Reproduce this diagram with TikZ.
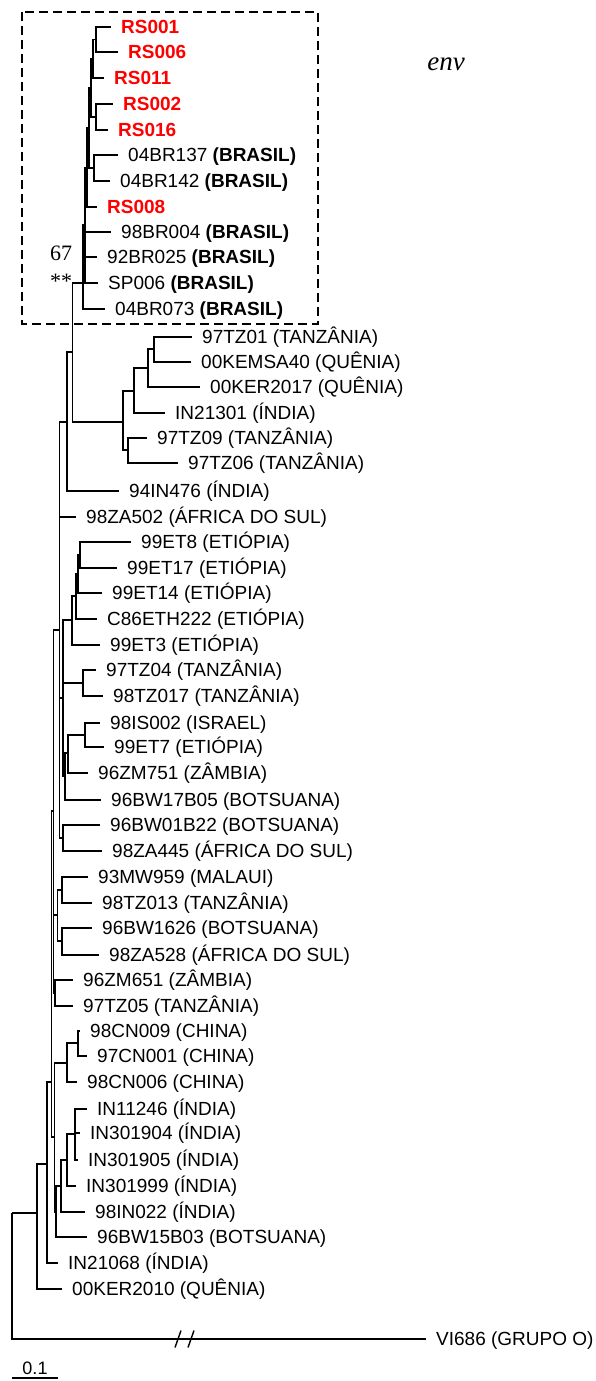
\documentclass[tikz,border=0pt]{standalone}
\usepackage{fontspec}
\setmainfont{Liberation Sans}
\newfontfamily\timesfont{Liberation Serif}
\usetikzlibrary{positioning}
\definecolor{rsred}{HTML}{FF0000}

\begin{document}
\begin{tikzpicture}[x=1pt,y=-1pt,
  branch/.style={line width=1.4pt},
  leaf/.style={anchor=west,inner xsep=10pt,inner ysep=0pt,text height=13.5pt,text depth=0pt,
    font=\fontsize{19}{21}\selectfont},
  rsleaf/.style={leaf,text=rsred,font=\fontsize{19}{21}\selectfont\bfseries},
  support/.style={inner sep=0pt,font=\timesfont\fontsize{22}{24}\selectfont},
  envbox/.style={line width=2.1pt,dash pattern=on 9pt off 5pt}]
\useasboundingbox (0,0) rectangle (595,1381);

% taxa
\node[rsleaf] (rs001) at (111,27) {RS001};
\node[rsleaf] (rs006) at (118,52) {RS006};
\node[rsleaf] (rs011) at (104,78) {RS011};
\node[rsleaf] (rs002) at (113,104) {RS002};
\node[rsleaf] (rs016) at (108,130) {RS016};
\node[leaf] (br137) at (118,155) {04BR137 \textbf{(BRASIL)}};
\node[leaf] (br142) at (110,181) {04BR142 \textbf{(BRASIL)}};
\node[rsleaf] (rs008) at (97,207) {RS008};
\node[leaf] (br004) at (111,232) {98BR004 \textbf{(BRASIL)}};
\node[leaf] (br025) at (97,257) {92BR025 \textbf{(BRASIL)}};
\node[leaf] (sp006) at (98,283) {SP006 \textbf{(BRASIL)}};
\node[leaf] (br073) at (105,309) {04BR073 \textbf{(BRASIL)}};
\node[leaf] (tz01) at (192,337) {97TZ01 (TANZÂNIA)};
\node[leaf] (kemsa) at (191,362) {00KEMSA40 (QUÊNIA)};
\node[leaf] (ker17) at (200,387) {00KER2017 (QUÊNIA)};
\node[leaf] (in213) at (165,413) {IN21301 (ÍNDIA)};
\node[leaf] (tz09) at (147,438) {97TZ09 (TANZÂNIA)};
\node[leaf] (tz06) at (178,463) {97TZ06 (TANZÂNIA)};
\node[leaf] (in476) at (119,491) {94IN476 (ÍNDIA)};
\node[leaf] (za502) at (76,517) {98ZA502 (ÁFRICA DO SUL)};
\node[leaf] (et8) at (131,542) {99ET8 (ETIÓPIA)};
\node[leaf] (et17) at (117,568) {99ET17 (ETIÓPIA)};
\node[leaf] (et14) at (102,593) {99ET14 (ETIÓPIA)};
\node[leaf] (eth222) at (97,619) {C86ETH222 (ETIÓPIA)};
\node[leaf] (et3) at (100,645) {99ET3 (ETIÓPIA)};
\node[leaf] (tz04) at (96,670) {97TZ04 (TANZÂNIA)};
\node[leaf] (tz017) at (103,696) {98TZ017 (TANZÂNIA)};
\node[leaf] (is002) at (100,723) {98IS002 (ISRAEL)};
\node[leaf] (et7) at (104,747) {99ET7 (ETIÓPIA)};
\node[leaf] (zm751) at (88,773) {96ZM751 (ZÂMBIA)};
\node[leaf] (bw17) at (101,800) {96BW17B05 (BOTSUANA)};
\node[leaf] (bw01) at (100,825) {96BW01B22 (BOTSUANA)};
\node[leaf] (za445) at (102,851) {98ZA445 (ÁFRICA DO SUL)};
\node[leaf] (mw959) at (88,877) {93MW959 (MALAUI)};
\node[leaf] (tz013) at (92,903) {98TZ013 (TANZÂNIA)};
\node[leaf] (bw1626) at (92,928) {96BW1626 (BOTSUANA)};
\node[leaf] (za528) at (99,955) {98ZA528 (ÁFRICA DO SUL)};
\node[leaf] (zm651) at (73,980) {96ZM651 (ZÂMBIA)};
\node[leaf] (tz05) at (73,1006) {97TZ05 (TANZÂNIA)};
\node[leaf] (cn009) at (80,1031) {98CN009 (CHINA)};
\node[leaf] (cn001) at (87,1056) {97CN001 (CHINA)};
\node[leaf] (cn006) at (77,1082) {98CN006 (CHINA)};
\node[leaf] (in11246) at (87,1109) {IN11246 (ÍNDIA)};
\node[leaf] (in301904) at (80,1133) {IN301904 (ÍNDIA)};
\node[leaf] (in301905) at (78,1160) {IN301905 (ÍNDIA)};
\node[leaf] (in301999) at (76,1186) {IN301999 (ÍNDIA)};
\node[leaf] (in022) at (85,1212) {98IN022 (ÍNDIA)};
\node[leaf] (bw15) at (87,1237) {96BW15B03 (BOTSUANA)};
\node[leaf] (in21068) at (58,1263) {IN21068 (ÍNDIA)};
\node[leaf] (ker10) at (62,1289) {00KER2010 (QUÊNIA)};
\node[leaf] (vi686) at (426,1339) {VI686 (GRUPO O)};

% internal nodes
\coordinate (b1) at (96,39.5);
\coordinate (b2) at (93,59);
\coordinate (b3) at (96,117);
\coordinate (b4) at (91,88);
\coordinate (b5) at (94,168);
\coordinate (b6) at (89,128);
\coordinate (b7) at (87,168);
\coordinate (b8) at (85,225);
\coordinate (bz) at (83,283);
\coordinate (e1) at (154,349);
\coordinate (e2) at (148,368);
\coordinate (e3) at (134,391);
\coordinate (e4) at (128,450);
\coordinate (e5) at (123,422);
\coordinate (p1) at (72.7,352);
\coordinate (p2) at (67,422);
\coordinate (p3) at (59.5,630);
\coordinate (t1) at (80,555);
\coordinate (t2) at (78,574);
\coordinate (t3) at (76,596);
\coordinate (t4) at (72,620);
\coordinate (t5) at (83,683);
\coordinate (t6) at (85,735);
\coordinate (t7) at (68,753);
\coordinate (t8) at (65,776);
\coordinate (p4) at (63,698);
\coordinate (p5) at (63,838);
\coordinate (m1) at (62,890);
\coordinate (m2) at (62,941);
\coordinate (m3) at (57.5,915);
\coordinate (zt) at (55,993);
\coordinate (cn1) at (78,1043);
\coordinate (cn2) at (67,1063);
\coordinate (in1) at (75,1134);
\coordinate (in2) at (67,1160);
\coordinate (in3) at (61,1186);
\coordinate (in4) at (56,1212);
\coordinate (g1) at (53.5,811);
\coordinate (ci) at (54.5,1137);
\coordinate (x1) at (51.5,1082);
\coordinate (q1) at (47,1164);
\coordinate (r0) at (37,1213);
\coordinate (root) at (12,1213);

% branches
\foreach \p/\c in {b1/rs001,b1/rs006,b2/b1,b2/rs011,b3/rs002,b3/rs016,b4/b2,b4/b3,
    b5/br137,b5/br142,b6/b4,b6/b5,b7/b6,b7/rs008,b8/b7,b8/br004,b8/br025,b8/sp006,
    bz/b8,bz/br073,e1/tz01,e1/kemsa,e2/e1,e2/ker17,e3/e2,e3/in213,e4/tz09,e4/tz06,
    e5/e3,e5/e4,p1/bz,p1/e5,p2/p1,p2/in476,p3/p2,p3/za502,p3/p4,p3/p5,
    t1/et8,t1/et17,t2/t1,t2/et14,t3/t2,t3/eth222,t4/t3,t4/et3,t5/tz04,t5/tz017,
    t6/is002,t6/et7,t7/t6,t7/zm751,t8/t7,t8/bw17,p4/t4,p4/t5,p4/t8,p5/bw01,p5/za445,
    m1/mw959,m1/tz013,m2/bw1626,m2/za528,m3/m1,m3/m2,zt/zm651,zt/tz05,
    cn1/cn009,cn1/cn001,cn2/cn1,cn2/cn006,in1/in11246,in1/in301904,in1/in301905,
    in2/in1,in2/in301999,in3/in2,in3/in022,in4/in3,in4/bw15,g1/p3,g1/m3,g1/zt,
    ci/cn2,ci/in4,x1/g1,x1/ci,q1/x1,q1/in21068,r0/q1,r0/ker10,root/r0,root/vi686}
  \draw[branch] (\p) |- (\c);

% long branch break
\coordinate (brk) at (184.5,1339);
\draw[branch] ([xshift=-9.5pt,yshift=-8.5pt]brk) -- ([xshift=-3.5pt,yshift=8.5pt]brk);
\draw[branch] ([xshift=3.5pt,yshift=-8.5pt]brk) -- ([xshift=9.5pt,yshift=8.5pt]brk);

% support
\node[support] (boot) at (61,253) {67};
\node[support] (stars) at (61,281) {**};

% env region
\draw[envbox] (22,12) rectangle (318,324);
\node[inner sep=0pt,font=\timesfont\itshape\fontsize{27}{29}\selectfont] (env) at (446,64) {env};

% scale
\coordinate (sb0) at (12,1378);
\coordinate (sb1) at (58,1378);
\draw[branch] (sb0) -- (sb1) node[midway,above=3pt,inner sep=0pt,font=\fontsize{18}{19}\selectfont] (sbl) {0.1};
\end{tikzpicture}
\end{document}
